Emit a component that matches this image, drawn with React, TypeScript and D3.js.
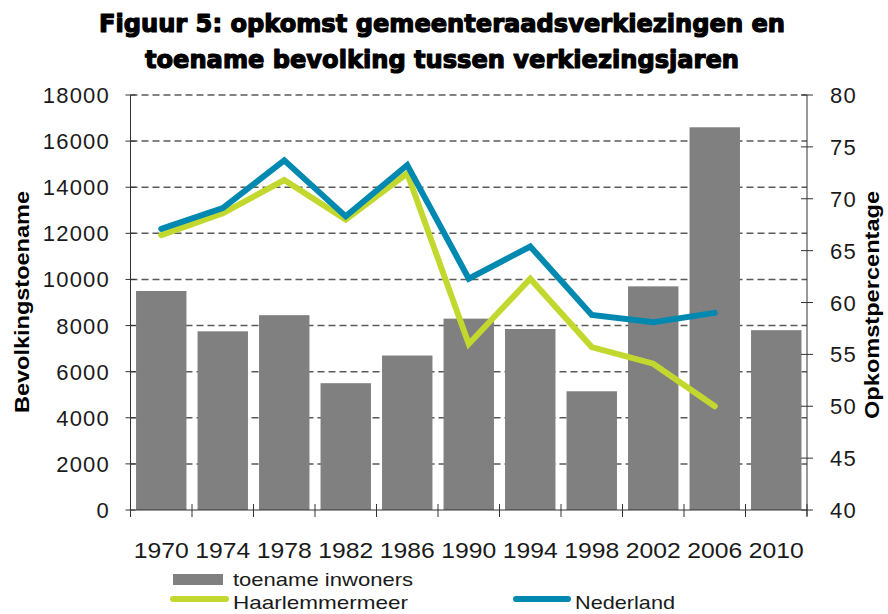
import * as d3 from 'd3';
import React, { useEffect, useRef } from 'react';

const years = ['1970', '1974', '1978', '1982', '1986', '1990', '1994', '1998', '2002', '2006', '2010'];
// toename inwoners (left axis)
const toename = [9500, 7750, 8450, 5500, 6700, 8300, 7850, 5150, 9700, 16600, 7800];
// opkomst (right axis), no 2010 value
const haarlemmermeer = [66.5, 68.6, 71.8, 68.0, 72.45, 56.0, 62.3, 55.7, 54.1, 50.0];
const nederland = [67.1, 69.1, 73.7, 68.3, 73.25, 62.3, 65.4, 58.8, 58.1, 59.0];
const leftTicks = [0, 2000, 4000, 6000, 8000, 10000, 12000, 14000, 16000, 18000];
const rightTicks = [40, 45, 50, 55, 60, 65, 70, 75, 80];

const titleLines = [
    'Figuur 5: opkomst gemeenteraadsverkiezingen en',
    'toename bevolking tussen verkiezingsjaren',
];

const GREEN = '#c3d82e';
const BLUE = '#0089b0';
const BAR = '#808080';

export default function App() {
    const ref = useRef<SVGSVGElement>(null);

    useEffect(() => {
        const svg = d3.select(ref.current);
        svg.selectAll('*').remove();

        const left = 130.5, right = 807, top = 95, bottom = 510;

        const x = d3.scaleBand().domain(years).range([left, right]).paddingInner(0.18).paddingOuter(0.09);
        const step = x.step();
        const yL = d3.scaleLinear().domain([0, 18000]).range([bottom, top]);
        const yR = d3.scaleLinear().domain([40, 80]).range([bottom, top]);
        const cx = (y: string) => (x(y) as number) + x.bandwidth() / 2;

        const labelFont = 'Liberation Sans, Arial, sans-serif';

        // title, heavy and wide
        svg.selectAll('text.title')
            .data(titleLines)
            .enter()
            .append('text')
            .attr('class', 'title')
            .attr('x', 442)
            .attr('y', (d, i) => 32 + i * 36)
            .attr('text-anchor', 'middle')
            .attr('font-family', 'DejaVu Sans, sans-serif')
            .attr('font-weight', 'bold')
            .attr('font-size', 24)
            .attr('stroke', '#000')
            .attr('stroke-width', 1.2)
            .attr('stroke-linejoin', 'round')
            .attr('textLength', (d, i) => (i === 0 ? 686 : 594))
            .attr('lengthAdjust', 'spacingAndGlyphs')
            .text(d => d);

        // dashed gridlines
        svg.append('g')
            .selectAll('line')
            .data(leftTicks.slice(1))
            .enter()
            .append('line')
            .attr('x1', left)
            .attr('x2', right)
            .attr('y1', d => yL(d))
            .attr('y2', d => yL(d))
            .attr('stroke', '#5a5a5a')
            .attr('stroke-width', 1.5)
            .attr('stroke-dasharray', '7 4');

        // bars
        svg.append('g')
            .selectAll('rect')
            .data(toename)
            .enter()
            .append('rect')
            .attr('x', (d, i) => x(years[i]) as number)
            .attr('width', x.bandwidth())
            .attr('y', d => yL(d))
            .attr('height', d => bottom - yL(d))
            .attr('fill', BAR);

        // axes
        const axes = svg.append('g').attr('stroke', '#333').attr('stroke-width', 1);
        axes.append('line').attr('x1', left).attr('x2', left).attr('y1', top).attr('y2', bottom + 6);
        axes.append('line').attr('x1', right).attr('x2', right).attr('y1', top).attr('y2', bottom + 6);
        axes.append('line').attr('x1', left).attr('x2', right).attr('y1', bottom).attr('y2', bottom);
        axes.selectAll('line.lt').data(leftTicks).enter().append('line')
            .attr('x1', left - 5).attr('x2', left + 5).attr('y1', d => yL(d)).attr('y2', d => yL(d));
        axes.selectAll('line.rt').data(rightTicks).enter().append('line')
            .attr('x1', right - 6).attr('x2', right + 6).attr('y1', d => yR(d)).attr('y2', d => yR(d));
        axes.selectAll('line.xt').data(d3.range(years.length + 1)).enter().append('line')
            .attr('x1', i => left + i * step).attr('x2', i => left + i * step)
            .attr('y1', bottom - 6).attr('y2', bottom + 7);

        // lines
        const line = d3.line<number>()
            .x((d, i) => cx(years[i]))
            .y(d => yR(d));
        [[haarlemmermeer, GREEN], [nederland, BLUE]].forEach(([vals, col]) => {
            svg.append('path')
                .attr('d', line(vals as number[]))
                .attr('fill', 'none')
                .attr('stroke', col as string)
                .attr('stroke-width', 6)
                .attr('stroke-linecap', 'round')
                .attr('stroke-linejoin', 'miter');
        });

        // tick labels
        svg.append('g').selectAll('text').data(leftTicks).enter().append('text')
            .attr('x', 110).attr('y', d => yL(d) + 8)
            .attr('text-anchor', 'end')
            .attr('font-family', labelFont).attr('font-size', 22).attr('letter-spacing', 1.2)
            .attr('fill', '#1a1a1a')
            .text(d => d);
        svg.append('g').selectAll('text').data(rightTicks).enter().append('text')
            .attr('x', 830).attr('y', d => yR(d) + 8)
            .attr('font-family', labelFont).attr('font-size', 22).attr('letter-spacing', 1.2)
            .attr('fill', '#1a1a1a')
            .text(d => d);
        svg.append('g').selectAll('text').data(years).enter().append('text')
            .attr('x', d => cx(d)).attr('y', 558)
            .attr('text-anchor', 'middle')
            .attr('font-family', labelFont).attr('font-size', 22)
            .attr('textLength', 55).attr('lengthAdjust', 'spacingAndGlyphs')
            .attr('fill', '#1a1a1a')
            .text(d => d);

        // axis titles
        svg.append('text')
            .attr('transform', 'translate(29,302) rotate(-90)')
            .attr('text-anchor', 'middle')
            .attr('font-family', labelFont).attr('font-weight', 'bold').attr('font-size', 20)
            .attr('textLength', 222).attr('lengthAdjust', 'spacingAndGlyphs')
            .text('Bevolkingstoename');
        svg.append('text')
            .attr('transform', 'translate(879,305) rotate(-90)')
            .attr('text-anchor', 'middle')
            .attr('font-family', labelFont).attr('font-weight', 'bold').attr('font-size', 20)
            .attr('textLength', 228).attr('lengthAdjust', 'spacingAndGlyphs')
            .text('Opkomstpercentage');

        // legend
        const lg = svg.append('g').attr('font-family', labelFont).attr('font-size', 19).attr('fill', '#1a1a1a');
        lg.append('rect').attr('x', 173).attr('y', 574).attr('width', 50).attr('height', 11).attr('fill', BAR);
        lg.append('text').attr('x', 233).attr('y', 586).attr('textLength', 180).attr('lengthAdjust', 'spacingAndGlyphs')
            .text('toename inwoners');
        lg.append('line').attr('x1', 173).attr('x2', 226).attr('y1', 599).attr('y2', 599)
            .attr('stroke', GREEN).attr('stroke-width', 6).attr('stroke-linecap', 'round');
        lg.append('text').attr('x', 233).attr('y', 609).attr('textLength', 175).attr('lengthAdjust', 'spacingAndGlyphs')
            .text('Haarlemmermeer');
        lg.append('line').attr('x1', 516).attr('x2', 568).attr('y1', 599).attr('y2', 599)
            .attr('stroke', BLUE).attr('stroke-width', 6).attr('stroke-linecap', 'round');
        lg.append('text').attr('x', 575).attr('y', 609).attr('textLength', 100).attr('lengthAdjust', 'spacingAndGlyphs')
            .text('Nederland');
    }, []);

    return (
        <svg
            ref={ref}
            width={888}
            height={614}
            style={{ position: 'absolute', left: 0, top: 0, background: '#fff' }}
        />
    );
}
